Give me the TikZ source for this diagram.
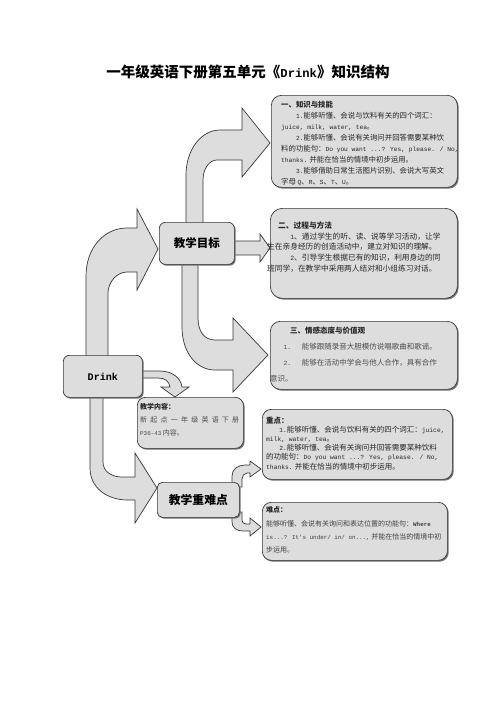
\documentclass[tikz,border=0pt]{standalone}
\usepackage{fontspec}
\setmainfont{Noto Sans CJK SC}
\newfontfamily\mono[Scale=0.84, BoldFont={Liberation Mono Bold}]{Liberation Mono}
\usetikzlibrary{shadows}
\definecolor{boxfill}{RGB}{221,221,221}
\definecolor{edgec}{RGB}{55,55,55}
\tikzset{
  bx/.style={draw=edgec, line width=0.7pt, fill=boxfill, inner sep=0pt, anchor=north west,
    drop shadow={shadow xshift=1.3pt, shadow yshift=-1.3pt, fill=black!55, opacity=1}},
  blockarrow/.style={draw=edgec, line width=0.7pt, fill=boxfill, line join=miter},
  txt/.style={align=left, inner sep=0pt, anchor=north west, text=black!85},
}
\begin{document}
\begin{tikzpicture}[x=1pt,y=-1pt]
\useasboundingbox[fill=white] (0,0) rectangle (496,702);

% title
\node[font=\fontsize{14.5}{16}\selectfont\bfseries] (title) at (248,72) {一年级英语下册第五单元《{\mono\bfseries Drink}》知识结构};

% block arrows
% Drink -> goal
\draw[blockarrow] (86,362) -- (86,276) .. controls (86,248) and (104,228) .. (127,228) -- (137,228) -- (137,209) -- (158,249) -- (137,290) -- (137,272) -- (127,272) .. controls (117,272) and (108,282) .. (108,293) -- (108,362) -- cycle;
% goal -> k1
\draw[blockarrow] (186,230) -- (186,175) .. controls (186,150) and (201,130) .. (220,130) -- (242,130) -- (242,108) -- (270,143) -- (242,177) -- (242,160) -- (217,160) .. controls (209,160) and (203,169) .. (203,180) -- (203,230) -- cycle;
% goal -> k2
\draw[blockarrow] (230,241) -- (260,241) -- (260,234) -- (270,248) -- (260,262) -- (260,255) -- (230,255) -- cycle;
% goal -> k3
\draw[blockarrow] (198,256) -- (198,318) .. controls (198,331) and (204,340) .. (215,340) -- (233,340) -- (233,318) -- (268,355) -- (233,392) -- (233,370) -- (215,370) .. controls (196,370) and (182,352) .. (182,327) -- (182,256) -- cycle;
% Drink -> k4
\draw[blockarrow] (138,371) -- (160,371) .. controls (172,371) and (181,378) .. (182,387) -- (189,387) -- (175,397) -- (161,387) -- (170,387) .. controls (169,381) and (165,378) .. (158,378) -- (138,378) -- cycle;
% Drink -> key
\draw[blockarrow] (103,390) -- (103,462) .. controls (103,471) and (111,477) .. (122,477) -- (135,477) -- (135,453) -- (157,488) -- (135,523) -- (135,500) -- (128,500) .. controls (106,500) and (90,487) .. (90,468) -- (90,390) -- cycle;
% key -> k5
\draw[blockarrow] (232,487) -- (232,476) .. controls (232,469) and (238,465) .. (245,465) -- (250,465) -- (250,461) -- (261,469) -- (250,477) -- (250,473) -- (247,473) .. controls (244,473) and (242,476) .. (242,479) -- (242,487) -- cycle;
% key -> k6
\draw[blockarrow] (232,512) -- (232,522) .. controls (232,528) and (237,531) .. (243,531) -- (250,531) -- (250,536) -- (261,527) -- (250,518) -- (250,524) -- (246,524) .. controls (243,524) and (242,522) .. (242,520) -- (242,512) -- cycle;

% boxes
\node[bx, minimum width=186pt, minimum height=92pt, rounded corners=10pt] (k1) at (271,95) {};
\node[bx, minimum width=187pt, minimum height=90pt, rounded corners=12pt] (k2) at (270,208) {};
\node[bx, minimum width=187pt, minimum height=68pt, rounded corners=10pt] (k3) at (270,321) {};
\node[bx, minimum width=106pt, minimum height=51pt, rounded corners=8pt] (k4) at (137,397) {};
\node[bx, minimum width=190pt, minimum height=70pt, rounded corners=9pt] (k5) at (262,409) {};
\node[bx, minimum width=185pt, minimum height=58pt, rounded corners=9pt] (k6) at (262,502) {};
\node[bx, minimum width=79pt, minimum height=42pt, rounded corners=6pt] (drink) at (63,355) {};
\node[bx, minimum width=75pt, minimum height=42pt, rounded corners=6pt] (goal) at (159,222) {};
\node[bx, minimum width=82pt, minimum height=35pt, rounded corners=5pt] (key) at (157,482) {};

% main labels
\node[font=\fontsize{12}{14}\selectfont\mono\bfseries] (drinkt) at (drink.center) {Drink};
\node[font=\fontsize{11.5}{13}\selectfont\bfseries] (goalt) at (goal.center) {教学目标};
\node[font=\fontsize{11.8}{13}\selectfont\bfseries] (keyt) at (key.center) {教学重难点};

% texts
\node[txt, font=\fontsize{7.4}{11}\selectfont] (t1) at (281,100.6) {%
{\bfseries 一、知识与技能}\\
\hspace*{2em}{\mono 1.}能够听懂、会说与饮料有关的四个词汇：\\
{\mono juice, milk, water, tea}。\\
\hspace*{2em}{\mono 2.}能够听懂、会说有关询问并回答需要某种饮\\
料的功能句：{\mono Do you want ...? Yes, please. / No,}\\
{\mono thanks.} 并能在恰当的情境中初步运用。\\
\hspace*{2em}{\mono 3.}能够借助日常生活图片识别、会说大写英文\\
字母 {\mono Q}、{\mono R}、{\mono S}、{\mono T}、{\mono U}。};

\node[txt, font=\fontsize{7.7}{10.8}\selectfont] (t2) at (267,221.4) {%
\hspace*{11pt}{\bfseries 二、过程与方法}\\
\hspace*{3em}{\mono 1}、通过学生的听、读、说等学习活动，让学\\
生在亲身经历的创造活动中，建立对知识的理解。\\
\hspace*{3em}{\mono 2}、引导学生根据已有的知识，利用身边的同\\
班同学，在教学中采用两人结对和小组练习对话。};

\node[txt, text=black!70, font=\fontsize{7.5}{16}\selectfont] (t3) at (270,326.5) {%
\hspace*{20pt}{\bfseries\color{black!85} 三、情感态度与价值观}\\
\hspace*{1.8em}{\mono 1.}\hspace{1.4em}能够跟随录音大胆模仿说唱歌曲和歌谣。\\
\hspace*{1.8em}{\mono 2.}\hspace{1.4em}能够在活动中学会与他人合作，具有合作\\
意识。};

\node[txt, text=black!70, font=\fontsize{7}{13}\selectfont] (t4) at (140,403.7) {%
{\bfseries\color{black!85} 教学内容：}\\
\makebox[99pt][s]{新 起 点 一 年 级 英 语 下 册}\\
{\mono P36-43} 内容。};

\node[txt, font=\fontsize{7.5}{9.2}\selectfont] (t5) at (266,416.5) {%
{\bfseries 重点：}\\
\hspace*{1.75em}{\mono 1.}能够听懂、会说与饮料有关的四个词汇：{\mono juice,}\\
{\mono milk, water, tea}。\\
\hspace*{1.75em}{\mono 2.}能够听懂、会说有关询问并回答需要某种饮料\\
的功能句：{\mono Do you want ...? Yes, please. / No,}\\
{\mono thanks.} 并能在恰当的情境中初步运用。};

\node[txt, text=black!75, font=\fontsize{7}{13.3}\selectfont] (t6) at (266,506.7) {%
{\bfseries\color{black!85} 难点：}\\
能够听懂、会说有关询问和表达位置的功能句：{\mono\bfseries Where}\\
{\mono is...? It's under/ in/ on...,} 并能在恰当的情境中初\\
步运用。};
\end{tikzpicture}
\end{document}
